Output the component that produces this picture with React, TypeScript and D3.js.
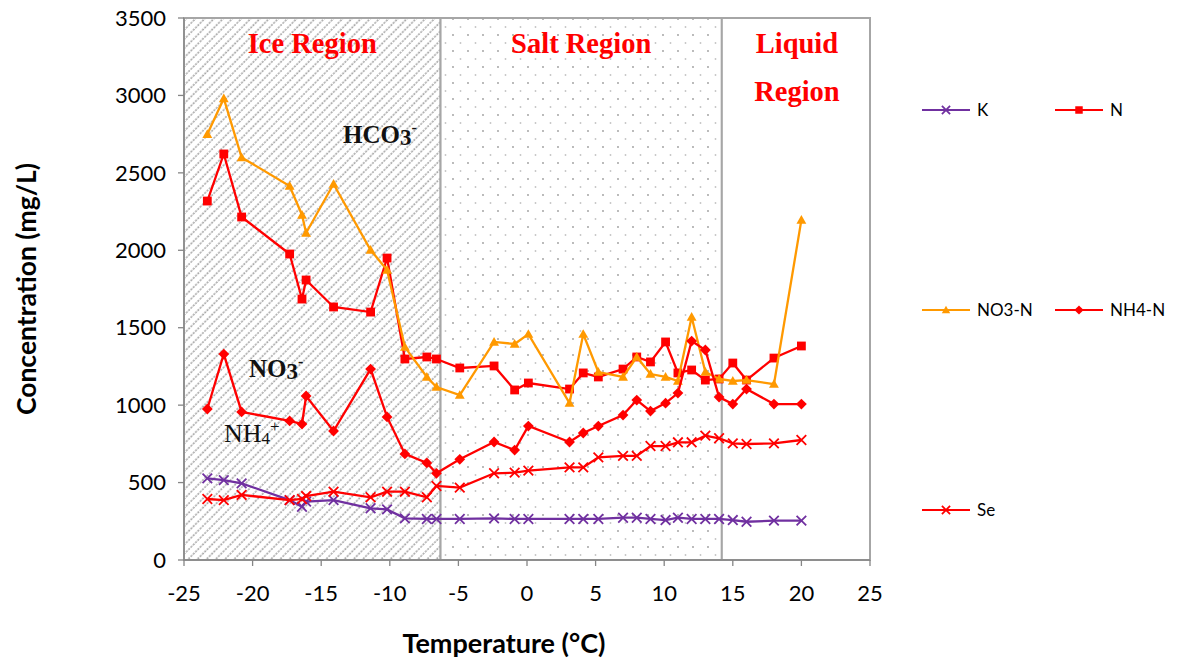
import React from "react";
import * as d3 from "d3";

// Sampling temperatures (°C), shared by every series
const temps = [
  -23.3, -22.1, -20.8, -17.3, -16.4, -16.1, -14.1, -11.4, -10.2, -8.9, -7.3, -6.6,
  -4.9, -2.4, -0.9, 0.1, 3.1, 4.1, 5.2, 7.0, 8.0, 9.0, 10.1, 11.0, 12.0, 13.0, 14.0,
  15, 16, 18, 20,
];

// Concentrations (mg/L)
const kValues = [
  527, 516, 495, 387, 344, 377, 387, 334, 327, 269, 265, 265,
  265, 269, 265, 265, 265, 265, 265, 273, 273, 265, 258, 273, 265, 265, 265,
  258, 247, 254, 254,
];
const nValues = [
  2318, 2622, 2215, 1976, 1685, 1808, 1634, 1601, 1950, 1298, 1311, 1298,
  1240, 1253, 1098, 1143, 1104, 1208, 1182, 1233, 1311, 1279, 1408, 1208, 1227, 1162, 1169,
  1272, 1162, 1304, 1382,
];
const no3Values = [
  2750, 2980, 2600, 2415, 2228, 2112, 2428, 2002, 1873, 1375, 1182, 1117,
  1065, 1408, 1395, 1459, 1014, 1459, 1214, 1182, 1311, 1201, 1182, 1156, 1569, 1214, 1169,
  1156, 1162, 1136, 2196,
];
const nh4Values = [
  975, 1330, 956, 898, 878, 1059, 833, 1233, 924, 685, 627, 560,
  650, 762, 710, 865, 762, 820, 865, 936, 1033, 962, 1013, 1078, 1414, 1356, 1052,
  1007, 1104, 1007, 1007,
];
const seValues = [
  394, 387, 420, 387, 394, 413, 441, 405, 441, 441, 405, 478,
  467, 560, 564, 577, 598, 598, 663, 672, 672, 736, 736, 760, 760, 803, 786,
  753, 749, 753, 775,
];

const seriesNames = ["K", "N", "NO3-N", "NH4-N", "Se"];
const seriesValues = [kValues, nValues, no3Values, nh4Values, seValues];
const seriesColors = ["#7030A0", "#FF0000", "#FF9900", "#FF0000", "#FF0000"];
const seriesMarkers = ["x", "square", "triangle", "diamond", "x"];

const xTicks = [-25, -20, -15, -10, -5, 0, 5, 10, 15, 20, 25];
const yTicks = [0, 500, 1000, 1500, 2000, 2500, 3000, 3500];

// Phase regions along the temperature axis
const regionNames = ["ice", "salt", "liquid"];
const regionStarts = [-25, -6.3, 14.2];
const regionEnds = [-6.3, 14.2, 25];
const regionLabels = [["Ice Region"], ["Salt Region"], ["Liquid", "Region"]];

const W = 1177;
const H = 663;

const x = d3.scaleLinear().domain([-25, 25]).range([184, 870]);
const y = d3.scaleLinear().domain([0, 3500]).range([560, 18]);

const tickFont = "Lato, 'Open Sans', sans-serif";
const serif = "'Liberation Serif', 'DejaVu Serif', serif";

function Marker({ kind, cx, cy, color, s = 1 }: { kind: string; cx: number; cy: number; color: string; s?: number }) {
  if (kind === "square") {
    const h = 4.4 * s;
    return <rect x={cx - h} y={cy - h} width={2 * h} height={2 * h} fill={color} />;
  }
  if (kind === "diamond") {
    const h = 5.4 * s;
    return <path d={`M${cx},${cy - h}L${cx + h},${cy}L${cx},${cy + h}L${cx - h},${cy}Z`} fill={color} />;
  }
  if (kind === "triangle") {
    const h = 4.7 * s;
    return (
      <path
        d={`M${cx},${cy - h * 1.05}L${cx + h * 1.05},${cy + h * 0.8}L${cx - h * 1.05},${cy + h * 0.8}Z`}
        fill={color}
      />
    );
  }
  const h = 4.8 * s;
  return (
    <path
      d={`M${cx - h},${cy - h}L${cx + h},${cy + h}M${cx - h},${cy + h}L${cx + h},${cy - h}`}
      stroke={color}
      strokeWidth={1.8}
      fill="none"
    />
  );
}

export default function App() {
  const line = d3
    .line<[number, number]>()
    .x((d) => x(d[0]))
    .y((d) => y(d[1]));

  const legendCols = [922, 1055];
  const legendRows = [110, 310, 510];

  return (
    <svg
      width={W}
      height={H}
      viewBox={`0 0 ${W} ${H}`}
      style={{ position: "absolute", left: 0, top: 0, background: "#fff" }}
    >
      <defs>
        <pattern id="hatch" width="6.5" height="6.5" patternUnits="userSpaceOnUse" patternTransform="rotate(45)">
          <rect width="6.5" height="6.5" fill="#fff" />
          <line x1="2" y1="0" x2="2" y2="6.5" stroke="#a9a9a9" strokeWidth="1.6" strokeDasharray="2.2 1" />
        </pattern>
        <pattern id="dots" width="15" height="16" patternUnits="userSpaceOnUse">
          <rect width="15" height="16" fill="#fff" />
          <circle cx="3" cy="3" r="0.9" fill="#9c9c9c" />
          <circle cx="10.5" cy="11" r="0.9" fill="#c4c4c4" />
        </pattern>
      </defs>

      {/* phase regions */}
      {regionNames.map((name, i) => (
        <rect
          key={name}
          x={x(regionStarts[i])}
          y={y(3500)}
          width={x(regionEnds[i]) - x(regionStarts[i])}
          height={y(0) - y(3500)}
          fill={name === "ice" ? "url(#hatch)" : name === "salt" ? "url(#dots)" : "#fff"}
          stroke="#a6a6a6"
          strokeWidth={2}
        />
      ))}

      {/* region titles */}
      {regionNames.map((name, i) =>
        regionLabels[i].map((txt, j) => (
          <text
            key={name + j}
            x={(x(regionStarts[i]) + x(regionEnds[i])) / 2 + (name === "liquid" ? 1 : 0)}
            y={53 + j * 48}
            textAnchor="middle"
            fontFamily={serif}
            fontWeight="bold"
            fontSize={28.5}
            fill="#FF0000"
          >
            {txt}
          </text>
        ))
      )}

      {/* ion labels */}
      <text x={343} y={143} fontFamily={serif} fontWeight="bold" fontSize={25} fill="#111">
        HCO<tspan fontSize={23} dy={2}>3</tspan>
        <tspan fontSize={16} dy={-12}>-</tspan>
      </text>
      <text x={249} y={377} fontFamily={serif} fontWeight="bold" fontSize={25} fill="#111">
        NO<tspan fontSize={23} dy={2}>3</tspan>
        <tspan fontSize={16} dy={-12}>-</tspan>
      </text>
      <text x={224} y={442} fontFamily={serif} fontSize={26} fill="#111">
        NH<tspan fontSize={17} dy={2}>4</tspan>
        <tspan fontSize={17} dy={-12}>+</tspan>
      </text>

      {/* axes */}
      <line x1={x(-25)} x2={x(-25)} y1={y(0)} y2={y(3500)} stroke="#868686" strokeWidth={1.3} />
      <line x1={x(-25)} x2={x(25)} y1={y(0)} y2={y(0)} stroke="#868686" strokeWidth={1.3} />
      {yTicks.map((t) => (
        <g key={"y" + t}>
          <line x1={x(-25) - 6} x2={x(-25)} y1={y(t)} y2={y(t)} stroke="#868686" strokeWidth={1.3} />
          <text
            x={166}
            y={y(t)}
            dy="0.35em"
            textAnchor="end"
            fontFamily={tickFont}
            fontSize={22}
            fill="#000"
          >
            {t}
          </text>
        </g>
      ))}
      {xTicks.map((t) => (
        <g key={"x" + t}>
          <line x1={x(t)} x2={x(t)} y1={y(0)} y2={y(0) + 6} stroke="#868686" strokeWidth={1.3} />
          <text x={x(t)} y={601} textAnchor="middle" fontFamily={tickFont} fontSize={22} fill="#000">
            {t}
          </text>
        </g>
      ))}

      <text
        x={504}
        y={653}
        textAnchor="middle"
        fontFamily={tickFont}
        fontWeight="bold"
        fontSize={27}
        fill="#000"
      >
        Temperature (°C)
      </text>
      <text
        transform="translate(36,289) rotate(-90)"
        textAnchor="middle"
        fontFamily={tickFont}
        fontWeight="bold"
        fontSize={26.5}
        fill="#000"
      >
        Concentration (mg/L)
      </text>

      {/* series */}
      {seriesNames.map((name, si) => {
        const pts = temps.map((t, i) => [t, seriesValues[si][i]] as [number, number]);
        return (
          <g key={name}>
            <path d={line(pts) || ""} fill="none" stroke={seriesColors[si]} strokeWidth={2.3} />
            {pts.map((p, i) => (
              <Marker key={i} kind={seriesMarkers[si]} cx={x(p[0])} cy={y(p[1])} color={seriesColors[si]} />
            ))}
          </g>
        );
      })}

      {/* legend */}
      {seriesNames.map((name, si) => {
        const lx = legendCols[si % 2];
        const ly = legendRows[Math.floor(si / 2)];
        return (
          <g key={"leg" + name}>
            <line x1={lx} x2={lx + 48} y1={ly} y2={ly} stroke={seriesColors[si]} strokeWidth={2.2} />
            <Marker kind={seriesMarkers[si]} cx={lx + 24} cy={ly} color={seriesColors[si]} s={0.85} />
            <text x={lx + 55} y={ly} dy="0.36em" fontFamily={tickFont} fontSize={17} fill="#000">
              {name}
            </text>
          </g>
        );
      })}
    </svg>
  );
}
